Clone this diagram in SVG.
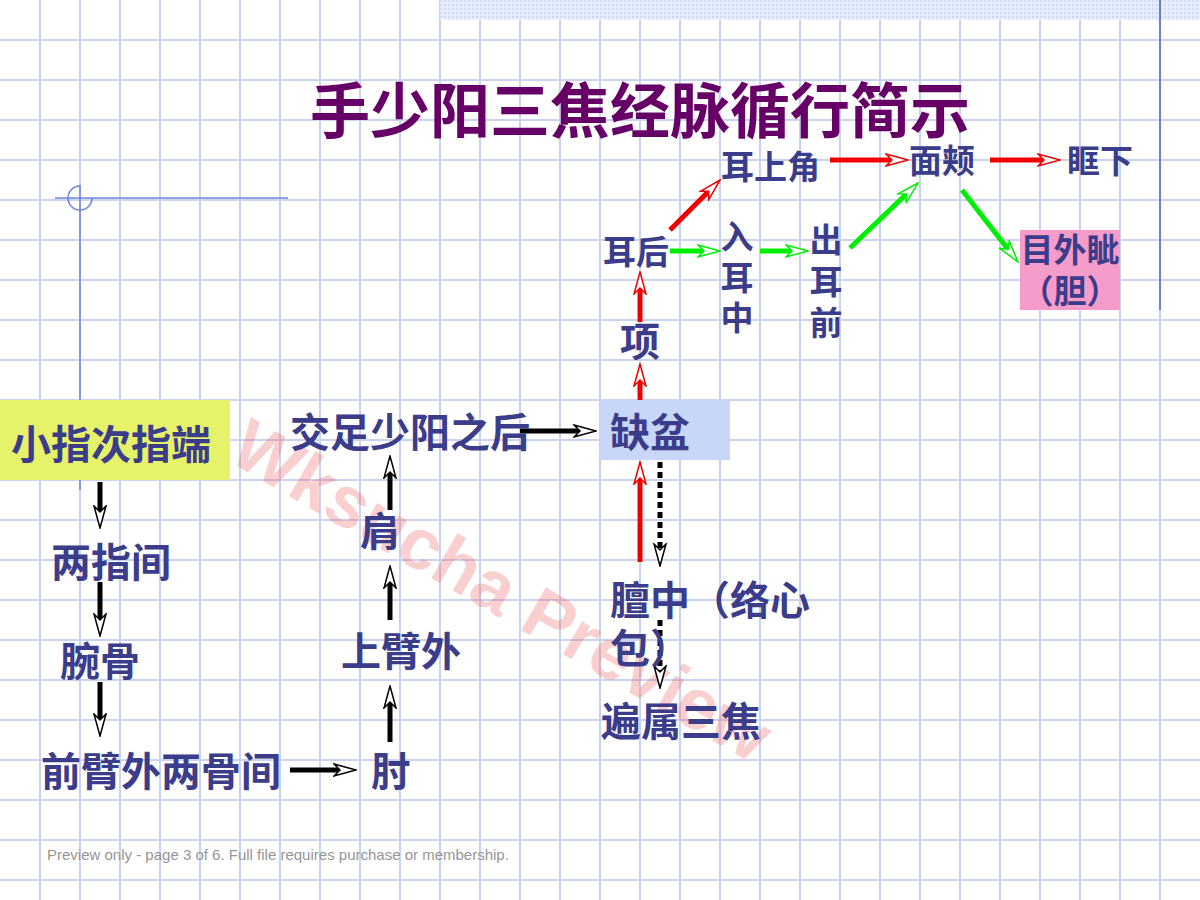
<svg xmlns="http://www.w3.org/2000/svg" width="1200" height="900" viewBox="0 0 1200 900">
<style>
.grid{stroke:#c9d3ef;stroke-width:2;fill:none}
.lbl{font-family:"Noto Sans CJK SC","Noto Sans",sans-serif;font-weight:700;fill:#3b3d8b}
.big{font-size:40px}
.sm{font-size:33px}
.title{font-family:"Noto Sans CJK SC","Noto Sans",sans-serif;font-weight:700;font-size:60px;fill:#660066}
.blk{stroke:#000;stroke-width:5;fill:none;marker-end:url(#ab)}
.dot{stroke:#000;stroke-width:5;fill:none;stroke-dasharray:6 4;marker-end:url(#ab)}
.red{stroke:#f00000;stroke-width:5;fill:none;marker-end:url(#ar)}
.grn{stroke:#00ee00;stroke-width:5;fill:none;marker-end:url(#ag)}
.deco{stroke:#6f82dc;stroke-width:1.5;fill:none}
</style>
<defs>
<pattern id="dots" width="4" height="4" patternUnits="userSpaceOnUse"><rect width="4" height="4" fill="#e6edfb"/><rect width="2" height="2" fill="#cfdaf5"/></pattern>
<marker id="ab" viewBox="-1 -1 24 16" refX="6" refY="7" markerWidth="24" markerHeight="16" markerUnits="userSpaceOnUse" orient="auto"><path d="M0,1 L22,7 L0,13 L6,7 Z" fill="#fff" stroke="#000" stroke-width="1.5"/></marker>
<marker id="ar" viewBox="-1 -1 24 16" refX="6" refY="7" markerWidth="24" markerHeight="16" markerUnits="userSpaceOnUse" orient="auto"><path d="M0,1 L22,7 L0,13 L6,7 Z" fill="#fff" stroke="#f00000" stroke-width="1.5"/></marker>
<marker id="ag" viewBox="-1 -1 24 16" refX="6" refY="7" markerWidth="24" markerHeight="16" markerUnits="userSpaceOnUse" orient="auto"><path d="M0,1 L22,7 L0,13 L6,7 Z" fill="#fff" stroke="#00ee00" stroke-width="1.5"/></marker>
</defs>
<rect width="1200" height="900" fill="#fff"/>
<g id="grid">
<path class="grid" d="M40 0V900M80 0V900M120 0V900M160 0V900M200 0V900M240 0V900M280 0V900M320 0V900M360 0V900M400 0V900M440 0V900M480 0V900M520 0V900M560 0V900M600 0V900M640 0V900M680 0V900M720 0V900M760 0V900M800 0V900M840 0V900M880 0V900M920 0V900M960 0V900M1000 0V900M1040 0V900M1080 0V900M1120 0V900M1160 0V900"/>
<path class="grid" d="M0 40H1200M0 80H1200M0 120H1200M0 160H1200M0 200H1200M0 240H1200M0 280H1200M0 320H1200M0 360H1200M0 400H1200M0 440H1200M0 480H1200M0 520H1200M0 560H1200M0 600H1200M0 640H1200M0 680H1200M0 720H1200M0 760H1200M0 800H1200M0 840H1200M0 880H1200"/>
</g>
<g id="decoration">
<rect x="440" y="0" width="760" height="20" fill="url(#dots)"/>
<line x1="1160" y1="0" x2="1160" y2="310" stroke="#6f80d0" stroke-width="2"/>
<line class="deco" x1="55" y1="198" x2="288" y2="198"/>
<line class="deco" x1="80" y1="185" x2="80" y2="490"/>
<path class="deco" d="M80,186 A12,12 0 1 0 92,198"/>
</g>
<text id="watermark" transform="translate(502,590) rotate(30)" text-anchor="middle" dy="0.35em" font-family="Liberation Sans,Arial,sans-serif" font-weight="700" font-size="72" fill="#ee6060" fill-opacity="0.3">Wksucha Preview</text>
<text id="title" class="title" x="640" y="133" text-anchor="middle">手少阳三焦经脉循行简示</text>
<g id="connectors">
<line class="blk" x1="100" y1="482" x2="100" y2="512"/>
<line class="blk" x1="100" y1="582" x2="100" y2="620"/>
<line class="blk" x1="100" y1="682" x2="100" y2="720"/>
<line class="blk" x1="290" y1="770" x2="340" y2="770"/>
<line class="blk" x1="390" y1="742" x2="390" y2="702"/>
<line class="blk" x1="390" y1="620" x2="390" y2="582"/>
<line class="blk" x1="390" y1="510" x2="390" y2="472"/>
<line class="blk" x1="520" y1="431" x2="580" y2="431"/>
<line class="dot" x1="660" y1="462" x2="660" y2="550"/>
<line class="dot" x1="660" y1="620" x2="660" y2="672"/>
<line class="red" x1="640" y1="562" x2="640" y2="478"/>
<line class="red" x1="640" y1="400" x2="640" y2="380"/>
<line class="red" x1="640" y1="322" x2="640" y2="288"/>
<line class="red" x1="670" y1="230" x2="708.7" y2="191.3"/>
<line class="red" x1="830" y1="160" x2="892" y2="160"/>
<line class="red" x1="990" y1="160" x2="1044" y2="160"/>
<line class="grn" x1="670" y1="251" x2="704" y2="251"/>
<line class="grn" x1="760" y1="251" x2="792" y2="251"/>
<line class="grn" x1="850" y1="248" x2="906.4" y2="194.1"/>
<line class="grn" x1="962" y1="190" x2="1008.2" y2="249.4"/>
</g>
<g id="n-xiaozhi"><rect x="0" y="400" width="230" height="80" fill="#e6f26a"/><text class="lbl big" x="11" y="459">小指次指端</text></g>
<g id="n-liangzhijian"><text class="lbl big" x="51" y="577">两指间</text></g>
<g id="n-wangu"><text class="lbl big" x="60" y="676">腕骨</text></g>
<g id="n-qianbi"><text class="lbl big" x="41" y="786">前臂外两骨间</text></g>
<g id="n-zhou"><text class="lbl big" x="371" y="786">肘</text></g>
<g id="n-shangbi"><text class="lbl big" x="341" y="666">上臂外</text></g>
<g id="n-jian"><text class="lbl big" x="360" y="546">肩</text></g>
<g id="n-jiaozu"><text class="lbl big" x="290" y="447">交足少阳之后</text></g>
<g id="n-quepen"><rect x="600" y="400" width="130" height="60" fill="#c8d6f7"/><text class="lbl big" x="610" y="447">缺盆</text></g>
<g id="n-danzhong"><text class="lbl big" x="610" y="615">膻中（络心</text><text class="lbl big" x="610" y="663">包）</text></g>
<g id="n-bianshu"><text class="lbl big" x="601" y="736">遍属三焦</text></g>
<g id="n-xiang"><text class="lbl big" x="620" y="356">项</text></g>
<g id="n-erhou"><text class="lbl sm" x="603" y="264">耳后</text></g>
<g id="n-ruerzhong"><text class="lbl sm" text-anchor="middle"><tspan x="737" y="249">入</tspan><tspan x="737" y="290">耳</tspan><tspan x="737" y="330">中</tspan></text></g>
<g id="n-chuerqian"><text class="lbl sm" text-anchor="middle"><tspan x="826" y="252">出</tspan><tspan x="826" y="294">耳</tspan><tspan x="826" y="335">前</tspan></text></g>
<g id="n-ershangjiao"><text class="lbl sm" x="721" y="179">耳上角</text></g>
<g id="n-mianjia"><text class="lbl sm" x="909" y="173">面颊</text></g>
<g id="n-kuangxia"><text class="lbl sm" x="1067" y="173">眶下</text></g>
<g id="n-muwaizi"><rect x="1020" y="230" width="100" height="80" fill="#f69cca"/><text class="lbl sm" text-anchor="middle"><tspan x="1070" y="262">目外眦</tspan><tspan x="1070" y="303">（胆）</tspan></text></g>
<text id="footer" x="47" y="860" font-family="Liberation Sans,Arial,sans-serif" font-size="15" fill="#959595">Preview only - page 3 of 6. Full file requires purchase or membership.</text>
</svg>
